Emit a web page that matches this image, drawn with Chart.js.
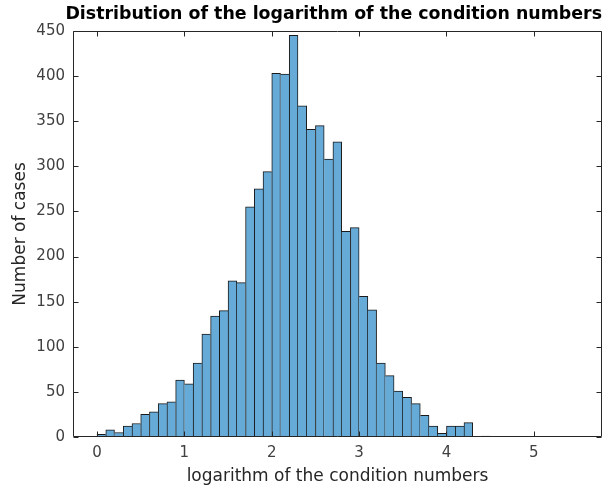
<!DOCTYPE html>
<html>
<head>
<meta charset="utf-8">
<script src="https://cdn.jsdelivr.net/npm/chart.js@4/dist/chart.umd.min.js"></script>
<style>
  html, body { margin: 0; padding: 0; background: #fff; }
  #wrap { width: 611px; height: 490px; }
</style>
</head>
<body>
<div id="wrap"><canvas id="histChart"></canvas></div>
<script>
// bin centres (bin width 0.1, from 0 to 4.5)
const binCenters = [0.05, 0.15, 0.25, 0.35, 0.45, 0.55, 0.65, 0.75, 0.85, 0.95,
  1.05, 1.15, 1.25, 1.35, 1.45, 1.55, 1.65, 1.75, 1.85, 1.95,
  2.05, 2.15, 2.25, 2.35, 2.45, 2.55, 2.65, 2.75, 2.85, 2.95,
  3.05, 3.15, 3.25, 3.35, 3.45, 3.55, 3.65, 3.75, 3.85, 3.95,
  4.05, 4.15, 4.25, 4.35, 4.45];
const counts = [3, 8, 5, 12, 15, 25, 28, 37, 39, 63,
  59, 82, 114, 134, 140, 173, 171, 255, 275, 294,
  403, 402, 445, 367, 341, 345, 308, 327, 228, 232,
  156, 141, 82, 68, 51, 44, 37, 24, 12, 4,
  12, 12, 16, 0, 1];
const xTicks = [0, 1, 2, 3, 4, 5];
const yTicks = [0, 50, 100, 150, 200, 250, 300, 350, 400, 450];

const axisColor = '#262626';
const font = 'DejaVu Sans';

// MATLAB style box with inward ticks
const boxPlugin = {
  id: 'box',
  afterDraw(c) {
    const a = c.chartArea, ctx = c.ctx;
    const xs = c.scales.x, ys = c.scales.y;
    const L = Math.round(a.left) + 0.5, R = Math.round(a.right) - 0.5;
    const T = Math.round(a.top) + 0.5, B = Math.round(a.bottom) - 0.5;
    ctx.save();
    ctx.strokeStyle = axisColor;
    ctx.lineWidth = 1;
    ctx.beginPath();
    ctx.rect(L, T, R - L, B - T);
    xTicks.forEach(v => {
      const px = Math.round(xs.getPixelForValue(v)) + 0.5;
      ctx.moveTo(px, B); ctx.lineTo(px, B - 5);
      ctx.moveTo(px, T); ctx.lineTo(px, T + 5);
    });
    yTicks.forEach(v => {
      const py = Math.round(ys.getPixelForValue(v)) + 0.5;
      ctx.moveTo(L, py); ctx.lineTo(L + 5, py);
      ctx.moveTo(R, py); ctx.lineTo(R - 5, py);
    });
    ctx.stroke();
    ctx.restore();
  }
};

new Chart(document.getElementById('histChart'), {
  type: 'bar',
  data: {
    datasets: [{
      data: binCenters.map((x, i) => ({ x: x, y: counts[i] })),
      backgroundColor: 'rgb(102,170,215)',
      borderColor: '#1a1a1a',
      borderSkipped: 'bottom',
      borderWidth: (ctx) => {
        const i = ctx.dataIndex;
        const v = counts[i];
        const prev = i > 0 ? counts[i - 1] : 0;
        const next = i < counts.length - 1 ? counts[i + 1] : 0;
        return { top: 1, bottom: 0, left: prev <= v ? 1 : 0, right: next < v ? 1 : 0 };
      },
      barPercentage: 1,
      categoryPercentage: 1
    }]
  },
  options: {
    responsive: true,
    maintainAspectRatio: false,
    animation: false,
    layout: { padding: { left: 0, right: 9, top: 0, bottom: 0 } },
    plugins: {
      legend: { display: false },
      tooltip: { enabled: false },
      title: {
        display: true,
        align: 'end',
        text: 'Distribution of the logarithm of the condition numbers',
        color: '#000',
        font: { family: font, size: 17.4, weight: 'bold' },
        padding: { top: 4, bottom: 6 }
      }
    },
    scales: {
      x: {
        type: 'linear',
        offset: false,
        min: -0.275,
        max: 5.78,
        grid: { display: false, drawTicks: false },
        border: { display: false },
        afterBuildTicks: (s) => { s.ticks = xTicks.map(v => ({ value: v })); },
        afterFit: (s) => { s.height = 53; },
        ticks: { color: '#404040', font: { family: font, size: 15 }, padding: 7 },
        title: {
          display: true,
          text: 'logarithm of the condition numbers',
          color: axisColor,
          font: { family: font, size: 17 },
          padding: { top: 0, bottom: 3 }
        }
      },
      y: {
        min: 0,
        max: 450,
        grid: { display: false, drawTicks: false },
        border: { display: false },
        afterBuildTicks: (s) => { s.ticks = yTicks.map(v => ({ value: v })); },
        afterFit: (s) => { s.width = 73; },
        ticks: { color: '#404040', font: { family: font, size: 15 }, padding: 8 },
        title: {
          display: true,
          text: 'Number of cases',
          color: axisColor,
          font: { family: font, size: 17 },
          padding: { top: 10, bottom: 0 }
        }
      }
    }
  },
  plugins: [boxPlugin]
});
</script>
</body>
</html>
